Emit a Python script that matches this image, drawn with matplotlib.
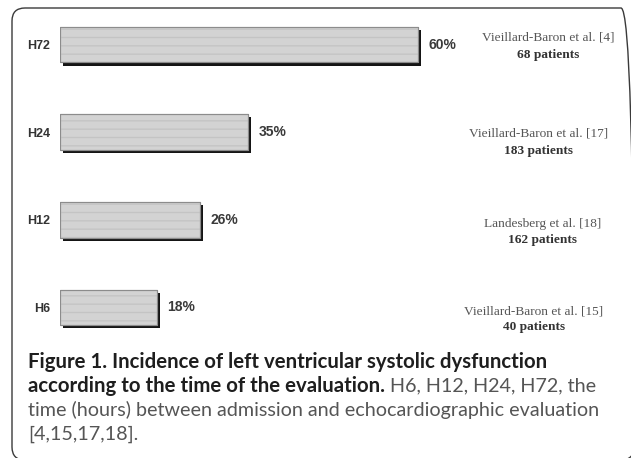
import matplotlib as mpl
import matplotlib.pyplot as plt
import matplotlib.patheffects as pe
from matplotlib.patches import FancyBboxPatch
from matplotlib.transforms import IdentityTransform

# --- data ---
groups = ["H6", "H12", "H24", "H72"]
incidence = [18, 26, 35, 60]           # printed percentages
drawn_len = [18, 26, 35, 66.5]         # bar lengths as drawn (H72 is drawn long)
studies = ["Vieillard-Baron et al. [15]", "Landesberg et al. [18]",
           "Vieillard-Baron et al. [17]", "Vieillard-Baron et al. [4]"]
patients = [40, 162, 183, 68]

caption_bold_1 = "Figure 1. Incidence of left ventricular systolic dysfunction"
caption_bold_2 = "according to the time of the evaluation."
caption_norm_2 = " H6, H12, H24, H72, the"
caption_norm_3 = "time (hours) between admission and echocardiographic evaluation"
caption_norm_4 = "[4,15,17,18]."

W, H = 631, 458
fig = plt.figure(figsize=(W / 100, H / 100), dpi=100)
fig.patch.set_facecolor("white")

def fy(py):
    return 1 - py / H

# rounded frame round the whole figure (right/bottom edges fall just off the image)
frame = FancyBboxPatch((12, -2), 622, 452, boxstyle="round,pad=0,rounding_size=13",
                       transform=IdentityTransform(), facecolor="none",
                       edgecolor="#3a3a3a", linewidth=1.0)
fig.patches.append(frame)

ax = fig.add_axes([60 / W, fy(351.3), 538 / W, 350.6 / H])
ax.set_xlim(0, 100)
ax.set_ylim(-0.5, 3.5)
ax.patch.set_alpha(0)
for s in ax.spines.values():
    s.set_visible(False)
ax.set_xticks([])

pos = list(range(len(groups)))
shadow = [pe.SimplePatchShadow(offset=(2.2, -2.2), shadow_rgbFace="#151515", alpha=1.0),
          pe.Normal()]
ax.barh(pos, drawn_len, height=0.41, left=0, color="#d3d3d3",
        edgecolor="#8c8c8c", linewidth=0.8, path_effects=shadow, zorder=2)
# faint horizontal streaks inside the bars
ax.barh(pos, drawn_len, height=0.41, left=0, color="none",
        edgecolor="#c4c4c4", linewidth=0, hatch="--", zorder=3)
ax.barh(pos, drawn_len, height=0.41, left=0, color="none",
        edgecolor="#8c8c8c", linewidth=0.8, zorder=4)

ax.set_yticks(pos, groups)
ax.tick_params(axis="y", length=0, pad=7)
for lab in ax.get_yticklabels():
    lab.set_fontfamily("Liberation Sans")
    lab.set_fontweight("bold")
    lab.set_fontsize(9)
    lab.set_color("#333333")

for p, L, v in zip(pos, drawn_len, incidence):
    ax.annotate(f"{v}%", xy=(L, p), xytext=(7.5, 0), textcoords="offset points",
                ha="left", va="center", fontsize=10, fontweight="bold",
                family="Liberation Sans", color="#3a3a3a")

# study references to the right
ref_x = [534, 543, 539, 548]
ref_y1 = [312, 224, 133, 37]
ref_y2 = [327, 240, 151, 55]
for s, n, x, y1, y2 in zip(studies, patients, ref_x, ref_y1, ref_y2):
    fig.text(x / W, fy(y1), s, ha="center", va="center", fontsize=9.6,
             family="Liberation Serif", color="#555555")
    fig.text(x / W, fy(y2), f"{n} patients", ha="center", va="center",
             fontsize=9.6, family="Liberation Serif", fontweight="bold",
             color="#333333")

# caption
cap_font = "Lato"
bold_size = 14.7
norm_size = 14.2
fig.text(28 / W, fy(362), caption_bold_1, ha="left", va="center",
         fontsize=bold_size, fontweight="bold", family=cap_font, color="#1e1e1e")
t2 = fig.text(28 / W, fy(386), caption_bold_2, ha="left", va="center",
              fontsize=bold_size, fontweight="bold", family=cap_font, color="#1e1e1e")
fig.canvas.draw()
bb = t2.get_window_extent()
fig.text(bb.x1 / W, fy(386), caption_norm_2, ha="left", va="center",
         fontsize=norm_size, family=cap_font, color="#555555")
fig.text(28 / W, fy(410), caption_norm_3, ha="left", va="center",
         fontsize=norm_size, family=cap_font, color="#555555")
fig.text(28 / W, fy(434), caption_norm_4, ha="left", va="center",
         fontsize=norm_size, family=cap_font, color="#555555")

fig.savefig("out.png", dpi=100)
